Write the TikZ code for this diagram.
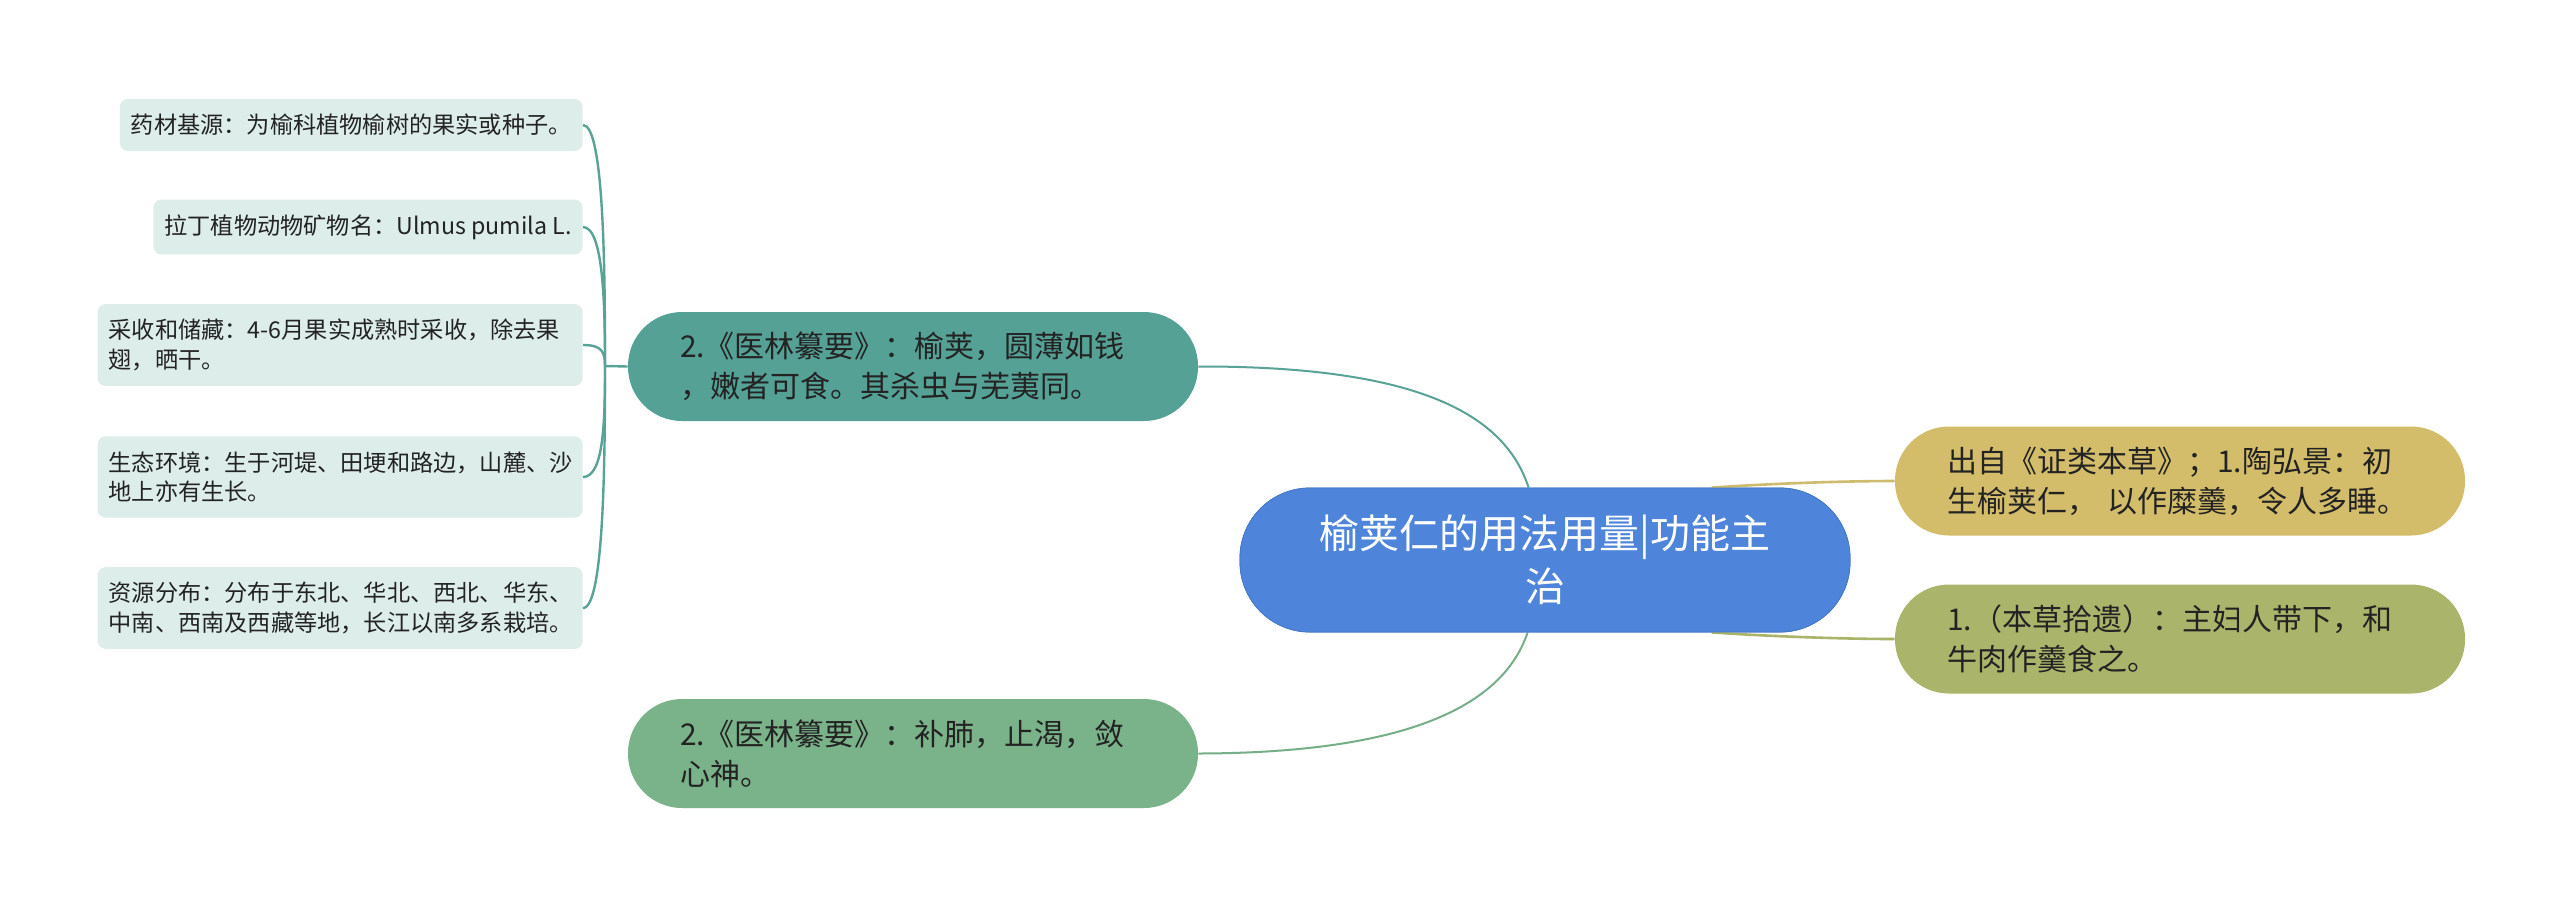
\documentclass[tikz,border=0pt]{standalone}
\usepackage{fontspec}
\setmainfont{Noto Sans CJK SC}
\usetikzlibrary{calc}
\definecolor{cblue}{RGB}{78,133,219}
\definecolor{cteal}{RGB}{85,161,150}
\definecolor{cgreen}{RGB}{122,178,138}
\definecolor{cyellow}{RGB}{212,189,106}
\definecolor{colive}{RGB}{170,181,107}
\definecolor{cleaf}{RGB}{221,237,234}
\definecolor{lteal}{RGB}{88,162,150}
\definecolor{lgreen}{RGB}{118,174,136}
\definecolor{lyellow}{RGB}{205,188,110}
\definecolor{lolive}{RGB}{170,180,105}
\definecolor{ctext}{RGB}{35,35,35}
\tikzset{
  centralbox/.style={fill=cblue, draw=cblue!90!black, line width=0.4pt, rounded corners=35pt,
    minimum width=305pt, minimum height=72pt, text=white, align=center,
    font=\fontsize{20pt}{26.5pt}\selectfont, inner sep=0pt},
  midbox/.style={rounded corners=27pt, minimum width=285pt, minimum height=54.5pt,
    text=ctext, align=left, text width=233pt, font=\fontsize{15pt}{20pt}\selectfont, inner sep=0pt},
  leafbox/.style={fill=cleaf, rounded corners=4pt, anchor=east, text=ctext, align=left,
    font=\fontsize{11.6pt}{14.8pt}\selectfont, inner xsep=5.5pt, inner ysep=7.5pt, minimum height=26pt},
  wideleaf/.style={leafbox, text width=231.5pt},
  leafline/.style={draw=lteal, line width=1.2pt},
  conn/.style={line width=1pt},
}
\begin{document}
\begin{tikzpicture}[x=0.5pt, y=-0.5pt]
\useasboundingbox[fill=white] (0,0) rectangle (2560,907);

% central
\node[centralbox] (ctr) at (1545,560) {榆荚仁的用法用量|功能主\\治};

% mid nodes
\node[midbox, fill=cteal] (n1) at (913,366.5) {2.《医林纂要》：榆荚，圆薄如钱\\，嫩者可食。其杀虫与芜荑同。};
\node[midbox, fill=cgreen] (n2) at (913,753.5) {2.《医林纂要》：补肺，止渴，敛\\心神。};
\node[midbox, fill=cyellow] (r1) at (2180,481) {出自《证类本草》；1.陶弘景：初\\生榆荚仁， 以作糜羹，令人多睡。};
\node[midbox, fill=colive] (r2) at (2180,639) {1.（本草拾遗）：主妇人带下，和\\牛肉作羹食之。};

% leaves
\node[leafbox] (L1) at (583,125) {药材基源：为榆科植物榆树的果实或种子。};
\node[leafbox] (L2) at (583,227) {拉丁植物动物矿物名：Ulmus pumila L.};
\node[wideleaf] (L3) at (583,345) {采收和储藏：4-6月果实成熟时采收，除去果\\翅，晒干。};
\node[wideleaf] (L4) at (583,477) {生态环境：生于河堤、田埂和路边，山麓、沙\\地上亦有生长。};
\node[wideleaf] (L5) at (583,608) {资源分布：分布于东北、华北、西北、华东、\\中南、西南及西藏等地，长江以南多系栽培。};

% trunk
\coordinate (T) at (605,366);
\draw[leafline] (T) -- (n1.west);
\draw[leafline] (L1.east) .. controls (604,125) and (605,270) .. (T);
\draw[leafline] (L2.east) .. controls (604,227) and (605,310) .. (T);
\draw[leafline] (L3.east) .. controls (602,345) and (605,352) .. (T);
\draw[leafline] (L4.east) .. controls (604,477) and (605,420) .. (T);
\draw[leafline] (L5.east) .. controls (604,608) and (605,460) .. (T);

% central connectors
\coordinate (ctop) at ($(ctr.north west)+(289,0)$);
\coordinate (cbot) at ($(ctr.south west)+(288,0)$);
\coordinate (ctopr) at ($(ctr.north west)+(472,0)$);
\coordinate (cbotr) at ($(ctr.south west)+(472,0)$);
\draw[conn, draw=lteal] (n1.east) .. controls (1420,366) and (1505,415) .. (ctop);
\draw[conn, draw=lgreen] (n2.east) .. controls (1420,753) and (1505,700) .. (cbot);
\draw[conn, draw=lyellow, line width=1.3pt] (ctopr) .. controls (1780,483) and (1850,481) .. (r1.west);
\draw[conn, draw=lolive, line width=1.3pt] (cbotr) .. controls (1780,637) and (1850,639) .. (r2.west);

% redraw central on top of connector ends
\node[centralbox] at (ctr) {榆荚仁的用法用量|功能主\\治};
\end{tikzpicture}
\end{document}
